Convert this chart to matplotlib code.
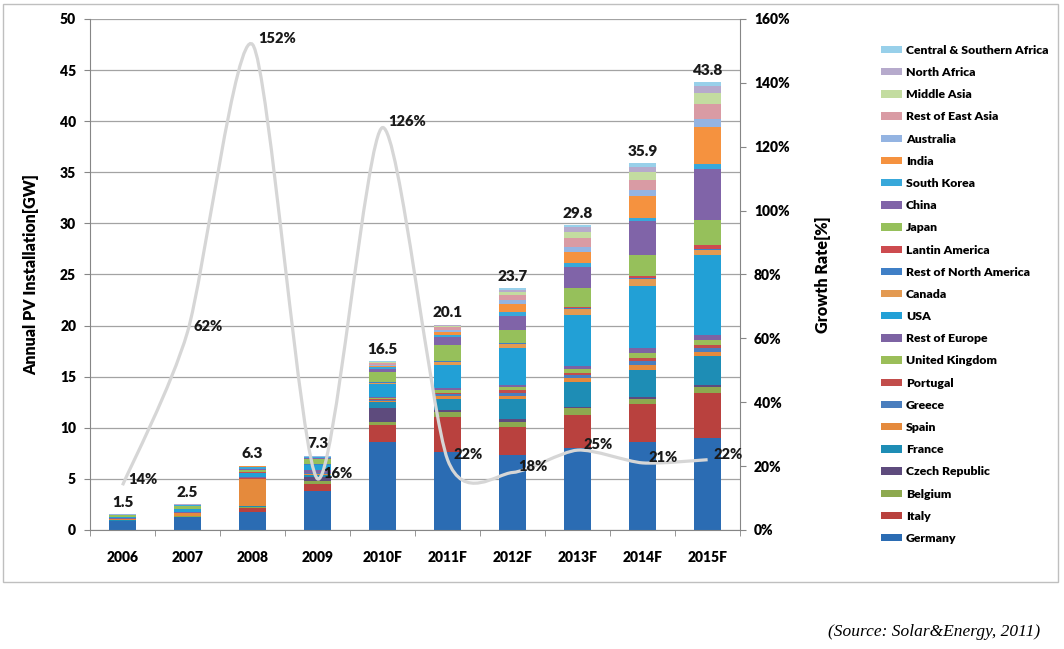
import numpy as np
import matplotlib
matplotlib.use('Agg')
import matplotlib.pyplot as plt
from matplotlib.path import Path
from matplotlib.patches import PathPatch, Rectangle

plt.rcParams['font.family'] = ['Lato', 'DejaVu Sans']
plt.rcParams['font.weight'] = 'heavy'
plt.rcParams['axes.labelweight'] = 'heavy'

years = ['2006', '2007', '2008', '2009', '2010F', '2011F', '2012F', '2013F', '2014F', '2015F']
totals = [1.5, 2.5, 6.3, 7.3, 16.5, 20.1, 23.7, 29.8, 35.9, 43.8]
growth = [14, 62, 152, 16, 126, 22, 18, 25, 21, 22]

# annual installation per region [GW], bottom of the stack first
germany = [0.88, 1.25, 1.8, 3.8, 8.6, 7.65, 7.35, 8.0, 8.6, 9.0]
italy = [0.01, 0.05, 0.35, 0.7, 1.7, 3.4, 2.75, 3.25, 3.7, 4.4]
belgium = [0.02, 0.02, 0.05, 0.3, 0.25, 0.45, 0.5, 0.65, 0.5, 0.55]
czech = [0.01, 0.01, 0.06, 0.4, 1.35, 0.2, 0.3, 0.15, 0.2, 0.25]
france = [0.01, 0.01, 0.1, 0.2, 0.65, 1.15, 1.95, 2.45, 2.7, 2.8]
spain = [0.1, 0.3, 2.6, 0.1, 0.1, 0.3, 0.3, 0.4, 0.45, 0.4]
greece = [0.05, 0.01, 0.05, 0.05, 0.1, 0.2, 0.3, 0.3, 0.4, 0.4]
portugal = [0.01, 0.01, 0.05, 0.03, 0.05, 0.1, 0.2, 0.2, 0.25, 0.3]
uk = [0.01, 0.01, 0.02, 0.02, 0.07, 0.2, 0.3, 0.35, 0.55, 0.5]
rest_europe = [0.05, 0.1, 0.15, 0.3, 0.15, 0.2, 0.25, 0.25, 0.45, 0.5]
usa = [0.1, 0.25, 0.35, 0.45, 1.3, 2.3, 3.6, 5.0, 6.05, 7.8]
canada = [0.02, 0.01, 0.02, 0.05, 0.1, 0.3, 0.4, 0.6, 0.7, 0.5]
rest_na = [0.02, 0.02, 0.02, 0.02, 0.03, 0.05, 0.05, 0.1, 0.1, 0.1]
latin = [0.02, 0.02, 0.03, 0.03, 0.05, 0.05, 0.05, 0.15, 0.2, 0.4]
japan = [0.15, 0.27, 0.25, 0.45, 1.0, 1.5, 1.3, 1.8, 2.1, 2.4]
china = [0.02, 0.05, 0.05, 0.15, 0.25, 0.8, 1.3, 2.1, 3.3, 5.0]
korea = [0.02, 0.05, 0.25, 0.1, 0.15, 0.2, 0.45, 0.35, 0.3, 0.5]
india = [0.01, 0.02, 0.02, 0.03, 0.1, 0.3, 0.8, 1.1, 2.1, 3.6]
australia = [0.01, 0.01, 0.03, 0.05, 0.1, 0.25, 0.35, 0.5, 0.65, 0.8]
rest_ea = [0.0, 0.01, 0.01, 0.02, 0.25, 0.3, 0.5, 0.85, 0.95, 1.5]
middle_asia = [0.0, 0.01, 0.01, 0.01, 0.05, 0.1, 0.3, 0.65, 0.8, 1.1]
north_africa = [0.0, 0.01, 0.01, 0.01, 0.05, 0.05, 0.2, 0.4, 0.5, 0.65]
cs_africa = [0.0, 0.01, 0.01, 0.01, 0.05, 0.05, 0.15, 0.2, 0.35, 0.35]

series = [
    ('Germany', germany, '#2B6CB3'),
    ('Italy', italy, '#B9413E'),
    ('Belgium', belgium, '#8DA94F'),
    ('Czech Republic', czech, '#5E4B7D'),
    ('France', france, '#1E8DB5'),
    ('Spain', spain, '#E58A3C'),
    ('Greece', greece, '#4A7EBE'),
    ('Portugal', portugal, '#C24D4B'),
    ('United Kingdom', uk, '#9BBE59'),
    ('Rest of Europe', rest_europe, '#7D63A3'),
    ('USA', usa, '#22A0D6'),
    ('Canada', canada, '#E39A52'),
    ('Rest of North America', rest_na, '#3F7FC6'),
    ('Lantin America', latin, '#CD4B4F'),
    ('Japan', japan, '#96C05B'),
    ('China', china, '#8064A8'),
    ('South Korea', korea, '#38A8DA'),
    ('India', india, '#F5923F'),
    ('Australia', australia, '#94B4E2'),
    ('Rest of East Asia', rest_ea, '#D99BA4'),
    ('Middle Asia', middle_asia, '#C3DCA0'),
    ('North Africa', north_africa, '#B6AACC'),
    ('Central & Southern Africa', cs_africa, '#98D0EA'),
]

fig = plt.figure(figsize=(10.64, 6.49), dpi=100)
ax = fig.add_axes([0.0846, 0.1834, 0.611, 0.7874])
x = np.arange(len(years))

bottom = np.zeros(len(years))
handles = []
for name, vals, col in series:
    b = ax.bar(x, vals, 0.42, bottom=bottom, color=col, label=name, zorder=2)
    handles.append(b)
    bottom += np.array(vals)

for i, t in enumerate(totals):
    ax.annotate(str(t), (x[i], bottom[i]), xytext=(0, 4), textcoords='offset points',
                ha='center', va='bottom', fontsize=11, color='#1a1a1a')

ax.set_xlim(-0.5, len(years) - 0.5)
ax.set_ylim(0, 50)
ax.set_yticks(np.arange(0, 51, 5))
ax.set_xticks(x)
ax.set_xticklabels(years)
ax.set_xticks(np.arange(-0.5, len(years), 1), minor=True)
ax.tick_params(axis='x', which='major', length=0, pad=15, labelsize=10)
ax.tick_params(axis='x', which='minor', length=4, color='#868686')
ax.tick_params(axis='y', length=4, color='#868686', labelsize=10, pad=6)
ax.yaxis.grid(True, color='#A3A3A3', lw=0.9)
ax.set_axisbelow(True)
ax.set_ylabel('Annual PV Installation[GW]', fontsize=11.5, labelpad=15)
for s in ['top', 'right']:
    ax.spines[s].set_visible(False)
for s in ['left', 'bottom']:
    ax.spines[s].set_color('#868686')

ax2 = ax.twinx()
ax2.set_ylim(0, 160)
ax2.set_yticks(np.arange(0, 161, 20))
ax2.set_yticklabels(['%d%%' % v for v in range(0, 161, 20)])
ax2.tick_params(axis='y', length=4, color='#868686', labelsize=10, pad=6)
ax2.set_ylabel('Growth Rate[%]', fontsize=11.5, labelpad=18)
for s in ['top', 'left', 'bottom']:
    ax2.spines[s].set_visible(False)
ax2.spines['right'].set_color('#868686')

# smoothed growth line (bezier through the points)
pts = np.column_stack([x, growth]).astype(float)
verts = [pts[0]]
codes = [Path.MOVETO]
for i in range(len(pts) - 1):
    p0 = pts[max(i - 1, 0)]
    p1 = pts[i]
    p2 = pts[i + 1]
    p3 = pts[min(i + 2, len(pts) - 1)]
    verts += [p1 + (p2 - p0) / 8, p2 - (p3 - p1) / 8, p2]
    codes += [Path.CURVE4] * 3
path = Path(verts, codes)
ax2.add_patch(PathPatch(path, fill=False, ec='#D6D6D6', lw=2.3, zorder=3))

for i, g in enumerate(growth):
    ax2.annotate('%d%%' % g, (x[i], g), xytext=(4, 4), textcoords='offset points',
                 ha='left', va='center', fontsize=10.5, color='#1a1a1a', zorder=5)

fig.legend(handles[::-1], [s[0] for s in series][::-1], loc='upper left',
           bbox_to_anchor=(876 / 1064, 1 - 40 / 649), frameon=False,
           fontsize=8.8, handlelength=1.7, handleheight=0.55, handletextpad=0.35,
           labelspacing=0.915, borderaxespad=0)

fig.patches.append(Rectangle((3 / 1064, 1 - 582 / 649), 1055 / 1064, 578 / 649,
                             transform=fig.transFigure, fill=False, ec='#BFBFBF', lw=1))

fig.text(1040 / 1064, 1 - 632 / 649, '(Source: Solar&Energy, 2011)', ha='right', va='center',
         fontsize=12.5, fontstyle='italic', fontweight='normal', family='Liberation Serif')

fig.savefig('out.png', dpi=100)
